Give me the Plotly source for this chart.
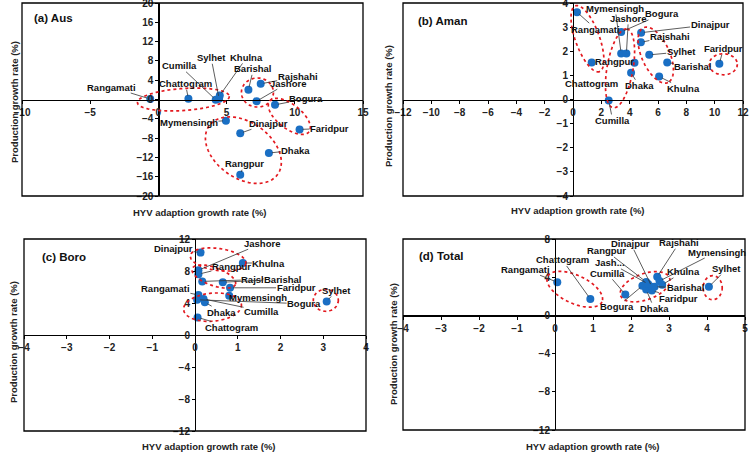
import numpy as np
import plotly.graph_objects as go

W, H = 750, 453

# ---------------- data ----------------
aus_names = ["Rangamati", "Chattogram", "Cumilla", "Sylhet", "Khulna", "Barishal", "Rajshahi",
             "Jashore", "Bogura", "Faridpur", "Mymensingh", "Dinajpur", "Dhaka", "Rangpur"]
aus_hyv = [-0.6, 2.2, 4.2, 4.45, 4.5, 6.6, 7.5, 7.2, 8.55, 10.35, 4.95, 6.0, 8.1, 6.0]
aus_prod = [0.1, 0.15, -0.05, 0.15, 0.85, 2.0, 3.25, -0.35, -1.1, -6.2, -4.4, -7.0, -11.1, -15.6]

aman_names = ["Rangamati", "Chattogram", "Cumilla", "Bogura", "Mymensingh", "Jashore", "Rangpur",
              "Dhaka", "Dinajpur", "Rajshahi", "Sylhet", "Barishal", "Khulna", "Faridpur"]
aman_hyv = [0.28, 1.32, 2.52, 3.4, 3.4, 3.77, 4.34, 4.1, 4.81, 4.79, 5.38, 6.65, 6.08, 10.33]
aman_prod = [3.62, 1.53, -0.04, 2.8, 1.91, 1.91, 1.52, 1.11, 2.77, 2.37, 1.85, 1.53, 0.95, 1.48]

boro_names = ["Dinajpur", "Khulna", "Jashore", "Rangpur", "Rajshahi", "Barishal", "Faridpur",
              "Mymensingh", "Rangamati", "Cumilla", "Bogura", "Dhaka", "Chattogram", "Sylhet"]
boro_hyv = [0.13, 1.12, 0.08, 0.08, 0.17, 0.65, 0.82, 0.8, 0.08, 0.2, 0.05, 0.23, 0.06, 3.08]
boro_prod = [10.3, 9.0, 8.1, 7.6, 6.7, 6.6, 5.9, 4.9, 5.0, 4.5, 4.4, 4.1, 2.2, 4.2]

total_names = ["Rangamati", "Chattogram", "Cumilla", "Bogura", "Dhaka", "Faridpur", "Rangpur",
               "Jash...", "Dinajpur", "Rajshahi", "Mymensingh", "Khulna", "Barishal", "Sylhet"]
total_hyv = [0.06, 0.93, 1.85, 2.3, 2.4, 2.55, 2.4, 2.45, 2.55, 2.69, 2.75, 2.82, 2.62, 4.05]
total_prod = [3.47, 1.72, 2.2, 3.1, 2.7, 2.6, 3.5, 3.3, 3.0, 4.05, 3.6, 3.2, 3.0, 3.0]

# label offsets (pixels, text centre relative to point)
aus_lx = [-39, -3, -36, -8, 27, 5, 37, 31, 31, 30, -37, 28, 27, 4]
aus_ly = [-12, -15, -34, -41, -38, -21, -7, -18, -6, -1, 2, -10, -3, -11]
aman_lx = [19, 0, 4, 41, -6, 2, -20, 8, 69, 29, 32, 26, 24, 4]
aman_ly = [17, 21, 20, -18, -45, -35, -1, 13, -8, -6, -3, 4, 12, -15]
boro_lx = [-27, 26, 64, 33, 59, 60, 66, 29, -33, 58, 107, 17, 34, 10]
boro_ly = [-4, 0, -27, -8, -2, -3, 0, 2, -7, 12, 4, 10, 10, -11]
total_lx = [-32, -28, -18, -25, 8, 27, -40, -38, -21, 22, 57, 21, 31, 18]
total_ly = [-13, -39, -21, 21, 19, 8, -31, -21, -43, -34, -29, -13, 1, -18]

# ellipses: centre (data), radii (px), rotation (deg, screen)
aus_ell = [(1.83, 0.0, 46, 11, -4), (7.26, 1.45, 16, 14.5, 0), (9.6, -3.5, 25, 12, 38), (6.23, -10.5, 42, 28, 35)]
aman_ell = [(1.02, 2.52, 35, 12, 70), (3.32, 1.29, 40, 13, -80), (5.84, 1.84, 30, 14, 66), (10.61, 1.46, 14, 10.5, 0)]
boro_ell = [(0.54, 9.44, 28, 11, 8), (0.44, 7.31, 23, 9, 20), (0.41, 3.48, 29, 14, -5), (3.06, 4.34, 12.5, 11, 0)]
total_ell = [(0.52, 2.74, 30, 14, 25), (2.37, 3.0, 26, 13, -20), (4.15, 2.9, 9.5, 12, 0)]

panels = [
    dict(title="(a) Aus", names=aus_names, x=aus_hyv, y=aus_prod, lx=aus_lx, ly=aus_ly, ell=aus_ell,
         xr=[-10, 15], yr=[-20, 20], dx=5, dy=4, px=(22, 363), py=(3, 196), tpos=(0.029, 0.922)),
    dict(title="(b) Aman", names=aman_names, x=aman_hyv, y=aman_prod, lx=aman_lx, ly=aman_ly, ell=aman_ell,
         xr=[-12, 12], yr=[-4, 4], dx=2, dy=1, px=(403, 743), py=(3, 196), tpos=(0.037, 0.908)),
    dict(title="(c) Boro", names=boro_names, x=boro_hyv, y=boro_prod, lx=boro_lx, ly=boro_ly, ell=boro_ell,
         xr=[-4, 4], yr=[-12, 12], dx=1, dy=4, px=(24, 366), py=(239, 431), tpos=(0.047, 0.906)),
    dict(title="(d) Total", names=total_names, x=total_hyv, y=total_prod, lx=total_lx, ly=total_ly, ell=total_ell,
         xr=[-4, 5], yr=[-12, 8], dx=1, dy=4, px=(403, 745), py=(239, 430), tpos=(0.041, 0.911)),
]

FONT = "Liberation Sans, Arial, sans-serif"
fig = go.Figure()
shapes, annotations = [], []
layout = {}

for i, p in enumerate(panels, start=1):
    xa = "x" if i == 1 else f"x{i}"
    ya = "y" if i == 1 else f"y{i}"
    xkey = "xaxis" if i == 1 else f"xaxis{i}"
    ykey = "yaxis" if i == 1 else f"yaxis{i}"
    dx0, dx1 = p["px"][0] / W, p["px"][1] / W
    dy0, dy1 = 1 - p["py"][1] / H, 1 - p["py"][0] / H
    (x0, x1), (y0, y1) = p["xr"], p["yr"]
    xzero = dx0 + (0 - x0) / (x1 - x0) * (dx1 - dx0)
    yzero = dy0 + (0 - y0) / (y1 - y0) * (dy1 - dy0)
    tick = dict(size=10, family=FONT, color="#222", weight="bold")
    common = dict(showgrid=False, zeroline=False, showline=True, linecolor="black", linewidth=1.2,
                  ticks="outside", ticklen=3, tickcolor="black", tickfont=tick, fixedrange=True,
                  automargin=False, ticklabeloverflow="allow", tick0=0)
    layout[xkey] = dict(domain=[dx0, dx1], range=p["xr"], anchor="free", position=yzero,
                        dtick=p["dx"], **common)
    layout[ykey] = dict(domain=[dy0, dy1], range=p["yr"], anchor="free", position=xzero,
                        dtick=p["dy"], **common)
    fig.add_trace(go.Scatter(x=p["x"], y=p["y"], mode="markers", xaxis=xa, yaxis=ya,
                             marker=dict(size=8, color="#1a6fc4"), hoverinfo="skip",
                             cliponaxis=False))
    # box
    shapes.append(dict(type="rect", xref=f"{xa} domain", yref=f"{ya} domain", x0=0, x1=1, y0=0, y1=1,
                       line=dict(color="black", width=1.3), layer="above"))
    # ellipses
    sx = (p["px"][1] - p["px"][0]) / (x1 - x0)
    sy = (p["py"][1] - p["py"][0]) / (y1 - y0)
    t = np.linspace(0, 2 * np.pi, 90)
    for (cx, cy, rx, ry, ang) in p["ell"]:
        a = np.deg2rad(ang)
        ex = rx * np.cos(t) * np.cos(a) - ry * np.sin(t) * np.sin(a)
        ey = rx * np.cos(t) * np.sin(a) + ry * np.sin(t) * np.cos(a)
        xs = cx + ex / sx
        ys = cy - ey / sy
        path = "M " + " L ".join(f"{u:.4f},{v:.4f}" for u, v in zip(xs, ys)) + " Z"
        shapes.append(dict(type="path", path=path, xref=xa, yref=ya,
                           line=dict(color="#e3191f", width=1.7, dash="dot")))
    # labels
    for name, xv, yv, ox, oy in zip(p["names"], p["x"], p["y"], p["lx"], p["ly"]):
        extra = {}
        if p["title"] == "(c) Boro" and name == "Barishal":
            extra = dict(bgcolor="white")
        annotations.append(dict(x=xv, y=yv, xref=xa, yref=ya, text=f"<b>{name}</b>", showarrow=True,
                                arrowhead=0, arrowwidth=0.8, arrowcolor="#333", ax=ox, ay=oy,
                                standoff=3, borderpad=0,
                                font=dict(size=9.5, family=FONT, color="#111"), **extra))
    # panel title
    annotations.append(dict(x=p["tpos"][0], y=p["tpos"][1], xref=f"{xa} domain", yref=f"{ya} domain",
                            text=f"<b>{p['title']}</b>", showarrow=False, xanchor="left", yanchor="middle",
                            font=dict(size=11.5, family=FONT, color="#111")))

# axis titles (pixel centres)
xt_pos = [(200, 213), (578, 211), (209, 446), (593, 446)]
yt_pos = [(14, 102), (389, 106), (13, 342), (393, 344)]
for (px_, py_) in xt_pos:
    annotations.append(dict(x=px_ / W, y=1 - py_ / H, xref="paper", yref="paper",
                            xanchor="center", yanchor="middle",
                            text="<b>HYV adaption growth rate (%)</b>", showarrow=False,
                            font=dict(size=9.5, family=FONT, color="#222")))
for (px_, py_) in yt_pos:
    annotations.append(dict(x=px_ / W, y=1 - py_ / H, xref="paper", yref="paper",
                            xanchor="center", yanchor="middle",
                            text="<b>Production growth rate (%)</b>", showarrow=False, textangle=-90,
                            font=dict(size=9.5, family=FONT, color="#222")))

fig.update_layout(width=W, height=H, margin=dict(l=0, r=0, t=0, b=0, autoexpand=False), showlegend=False,
                  paper_bgcolor="white", plot_bgcolor="white", shapes=shapes,
                  annotations=annotations, **layout)
fig.write_html("out.html", config={"displayModeBar": False, "staticPlot": True},
               post_script="document.body.style.margin='0';document.body.style.padding='0';document.body.style.overflow='hidden';")
